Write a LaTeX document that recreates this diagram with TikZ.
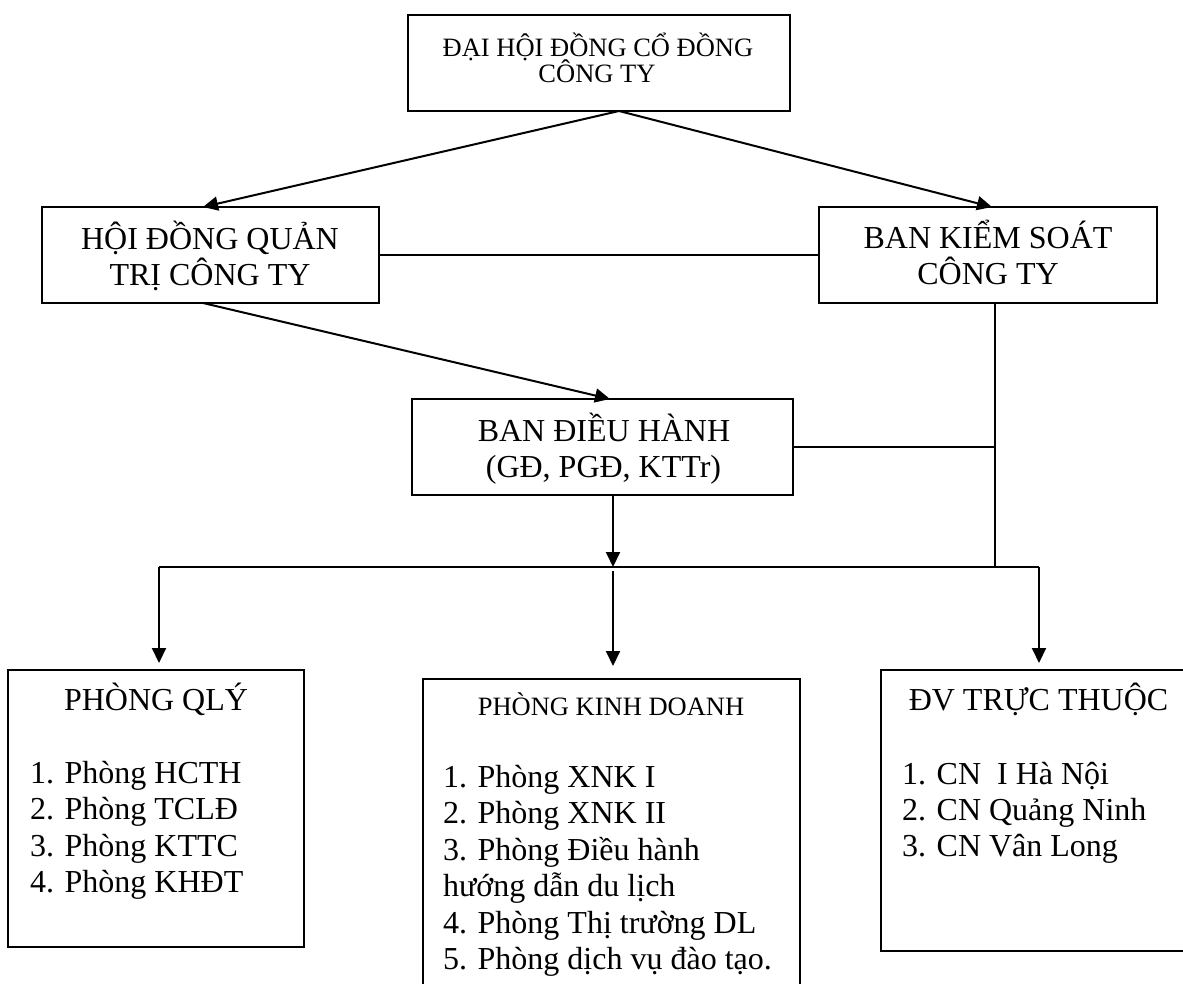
\documentclass[tikz,border=0pt]{standalone}
\usepackage{fontspec}
\setmainfont{Liberation Serif}
\usetikzlibrary{arrows.meta,calc}
\newcommand\fbig{\fontsize{32}{36}\selectfont}
\newcommand\fsml{\fontsize{26.5}{26}\selectfont}
\begin{document}
\begin{tikzpicture}[x=1pt,y=1pt,
  box/.style={draw, line width=2pt, rectangle, inner sep=0pt, outer sep=0pt},
  lbl/.style={inner sep=0pt, outer sep=0pt, font=\fbig},
  sml/.style={inner sep=0pt, outer sep=0pt, font=\fsml},
  conn/.style={line width=2pt},
  arr/.style={conn, -{Triangle[length=15pt,width=14pt]}}]
\useasboundingbox (0,0) rectangle (1183,-984);
\clip (0,0) rectangle (1183,-984);
% boxes
\node[box, minimum width=382, minimum height=96] (dh) at (599,-63) {};
\node[box, minimum width=337, minimum height=96] (hdqt) at (210.5,-255) {};
\node[box, minimum width=338, minimum height=96] (bks) at (988,-255) {};
\node[box, minimum width=381, minimum height=96] (bdh) at (602.5,-447) {};
\node[box, minimum width=296, minimum height=277] (ql) at (156,-808.5) {};
\node[box, minimum width=377, minimum height=321] (kd) at (611.5,-839.5) {};
\node[box, minimum width=315, minimum height=281] (dv) at (1038.5,-810.5) {};
% texts
\node[sml, anchor=base] (dh1) at (598,-57) {ĐẠI HỘI ĐỒNG CỔ ĐỒNG};
\node[sml, anchor=base] (dh2) at (597,-83) {CÔNG TY};
\node[lbl, anchor=base] (hd1) at (210,-249.5) {HỘI ĐỒNG QUẢN};
\node[lbl, anchor=base] (hd2) at (210,-285.5) {TRỊ CÔNG TY};
\node[lbl, anchor=base] (bk1) at (988,-248.5) {BAN KIỂM SOÁT};
\node[lbl, anchor=base] (bk2) at (988,-284.5) {CÔNG TY};
\node[lbl, anchor=base] (bd1) at (604,-441) {BAN ĐIỀU HÀNH};
\node[lbl, anchor=base] (bd2) at (603.5,-477) {(GĐ, PGĐ, KTTr)};
\node[lbl, anchor=base] (qlt) at (156,-710) {PHÒNG QLÝ};
\node[sml, anchor=base] (kdt) at (611,-715) {PHÒNG KINH DOANH};
\node[lbl, anchor=base] (dvt) at (1038.5,-710) {ĐV TRỰC THUỘC};
\foreach \t/\y [count=\i] in {{1. Phòng HCTH}/783, {2. Phòng TCLĐ}/819.5, {3. Phòng KTTC}/856, {4. Phòng KHĐT}/892.5}
  \node[lbl, anchor=base west] (ql\i) at (30,-\y) {\t};
\foreach \t/\y [count=\i] in {{1. Phòng XNK I}/787, {2. Phòng XNK II}/823.5, {3. Phòng Điều hành}/860, {hướng dẫn du lịch}/896.5, {4. Phòng Thị trường DL}/933, {5. Phòng dịch vụ đào tạo.}/969.5}
  \node[lbl, anchor=base west] (kd\i) at (443,-\y) {\t};
\foreach \t/\y [count=\i] in {{1. CN\ \ I Hà Nội}/784, {2. CN Quảng Ninh}/820, {3. CN Vân Long}/856}
  \node[lbl, anchor=base west] (dv\i) at (902,-\y) {\t};
% junction coordinates
\coordinate (j) at (995,-567);
\coordinate (bl) at (159,-567);
\coordinate (br) at (1039,-567);
\coordinate (bdo) at ($(bdh.south)+(10.5,0)$);
\coordinate (bm) at (bdo |- j);
% connectors
\draw[arr] ($(dh.south)+(20,0)$) -- ($(hdqt.north)+(-7.5,0)$);
\draw[arr] ($(dh.south)+(20,0)$) -- ($(bks.north)+(4,0)$);
\draw[arr] ($(hdqt.south)+(-7.5,0)$) -- ($(bdh.north)+(7.5,0)$);
\draw[conn] (hdqt.east) -- (bks.west);
\draw[conn] (bks.south -| j) -- (j);
\draw[conn] (bdh.east) -- (bdh.east -| j);
\draw[arr] (bdo) -- (bm);
\draw[conn] (bl) -- (br);
\draw[arr] (bl) -- ($(bl |- ql.north)+(0,7)$);
\draw[arr] ($(bm)+(0,-4)$) -- ($(bm |- kd.north)+(0,13)$);
\draw[arr] (br) -- ($(br |- dv.north)+(0,7)$);
\end{tikzpicture}
\end{document}
